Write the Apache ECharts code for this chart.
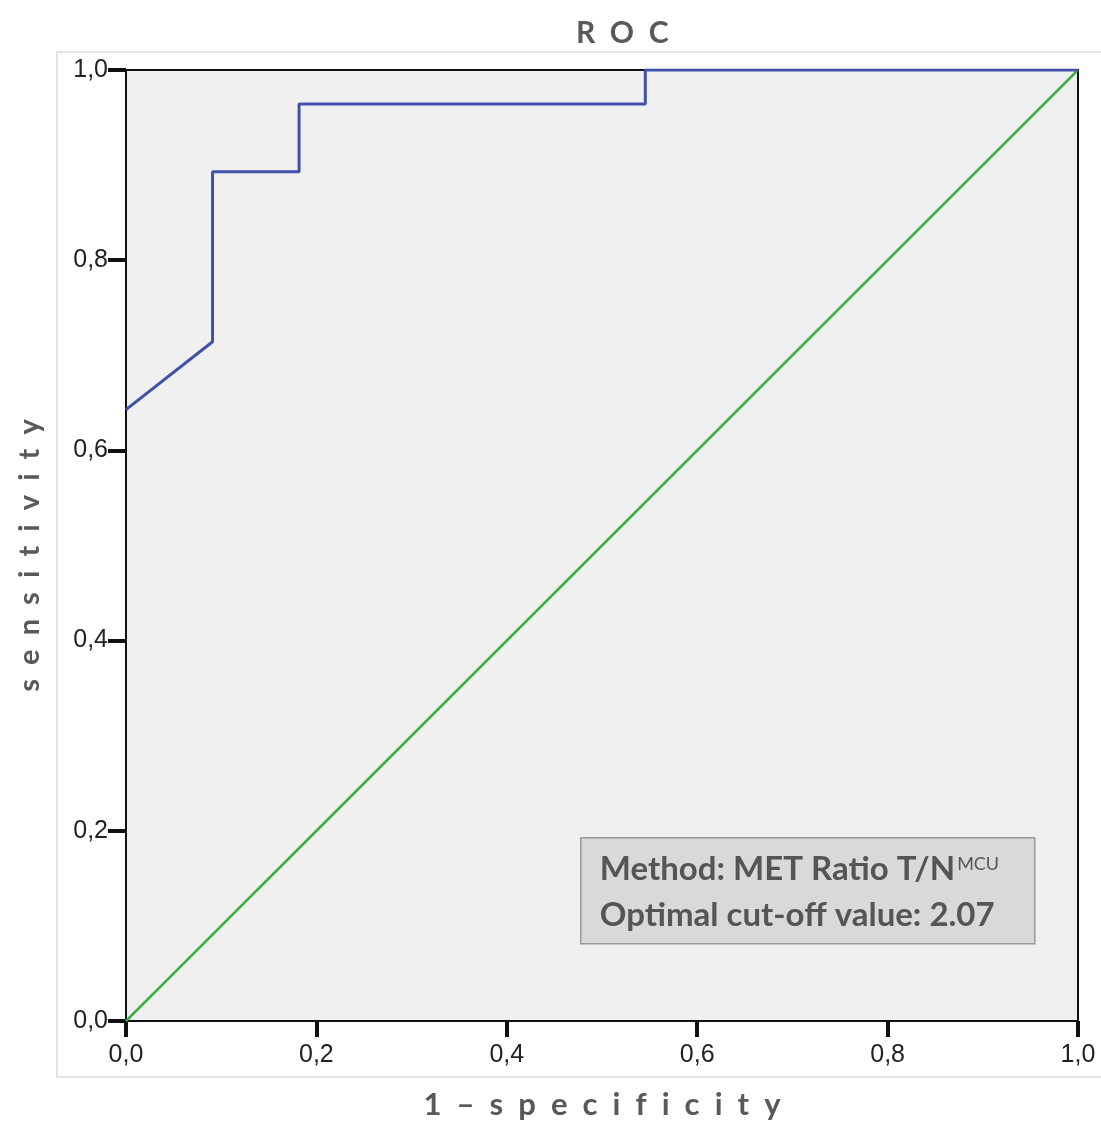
<!DOCTYPE html>
<html>
<head>
<meta charset="utf-8">
<script src="https://cdn.jsdelivr.net/npm/echarts@6/dist/echarts.min.js"></script>
<style>
  html, body { margin: 0; padding: 0; background: #fff; }
  #roc { width: 1101px; height: 1122px; }
</style>
</head>
<body>
<div id="roc"></div>
<script>
// ROC curve points (1 - specificity, sensitivity)
const fpr = [0, 0.0909, 0.0909, 0.1818, 0.1818, 0.5455, 0.5455, 1];
const tpr = [0.6429, 0.7143, 0.8929, 0.8929, 0.9643, 0.9643, 1, 1];
// reference diagonal
const refX = [0, 1];
const refY = [0, 1];

const rocData = fpr.map((x, i) => [x, tpr[i]]);
const refData = refX.map((x, i) => [x, refY[i]]);

const fmt = v => v.toFixed(1).replace('.', ',');
const labelStyle = { color: '#222', fontSize: 25, fontFamily: 'Liberation Sans, Arial, sans-serif' };
const font = 'Lato, Open Sans, sans-serif';

let myChart = echarts.init(document.getElementById('roc'));
let option = {
    backgroundColor: '#fff',
    animation: false,
    title: {
        text: 'R  O  C',
        left: 571,
        top: 13,
        textStyle: { color: '#595959', fontSize: 30, fontWeight: 'bold', fontFamily: font }
    },
    grid: {
        left: 126,
        right: 23,
        top: 70,
        bottom: 101,
        outerBoundsMode: 'none',
        containLabel: false,
        show: true,
        backgroundColor: '#f0f0f0',
        borderColor: '#111',
        borderWidth: 2
    },
    xAxis: {
        type: 'value',
        min: 0,
        max: 1,
        interval: 0.2,
        name: '1  –  s  p  e  c  i  f  i  c  i  t  y',
        nameLocation: 'middle',
        nameGap: 68,
        nameTextStyle: { color: '#595959', fontSize: 31, fontWeight: 'bold', fontFamily: font },
        axisLine: { show: true, lineStyle: { color: '#111', width: 2 } },
        axisTick: { show: true, length: 16, lineStyle: { color: '#111', width: 4 } },
        axisLabel: Object.assign({ formatter: fmt, margin: 22, showMaxLabel: true, showMinLabel: true }, labelStyle),
        splitLine: { show: false }
    },
    yAxis: {
        type: 'value',
        min: 0,
        max: 1,
        interval: 0.2,
        name: 's  e  n  s  i  t  i  v  i  t  y',
        nameLocation: 'middle',
        nameGap: 82,
        nameTextStyle: { color: '#595959', fontSize: 29, fontWeight: 'bold', fontFamily: font, padding: [0, 20, 0, 0] },
        axisLine: { show: true, lineStyle: { color: '#111', width: 2 } },
        axisTick: { show: true, length: 18, lineStyle: { color: '#111', width: 4 } },
        axisLabel: Object.assign({ formatter: fmt, margin: 18 }, labelStyle),
        splitLine: { show: false }
    },
    graphic: [
        {
            // outer chart frame
            type: 'rect',
            z: -10,
            shape: { x: 57, y: 52, width: 1050, height: 1025 },
            style: { fill: 'none', stroke: '#dcdcdc', lineWidth: 1.5 }
        },
        {
            type: 'group',
            left: 580,
            top: 837,
            z: 100,
            children: [
                {
                    type: 'rect',
                    shape: { x: 0, y: 0, width: 454, height: 106 },
                    style: { fill: '#d9d9d9', stroke: '#9a9a9a', lineWidth: 1.5 }
                },
                {
                    type: 'text',
                    x: 19,
                    y: 9,
                    style: {
                        text: '{m|Method: MET Ratio T/N}{s|MCU}\n{m|Optimal cut-off value: 2.07}',
                        rich: {
                            m: { fontSize: 33, fontWeight: 'bold', fontFamily: font, fill: '#555', lineHeight: 46 },
                            s: { fontSize: 18, fontFamily: font, fill: '#555', padding: [0, 0, 11, 2], lineHeight: 46 }
                        }
                    }
                }
            ]
        }
    ],
    series: [
        {
            name: 'reference',
            type: 'line',
            data: refData,
            symbol: 'none',
            lineStyle: { color: '#3cb043', width: 2.5 },
            z: 2
        },
        {
            name: 'ROC',
            type: 'line',
            data: rocData,
            symbol: 'none',
            lineStyle: { color: '#3f51a8', width: 3 },
            z: 3
        }
    ]
}
option && myChart.setOption(option)
</script>
</body>
</html>
